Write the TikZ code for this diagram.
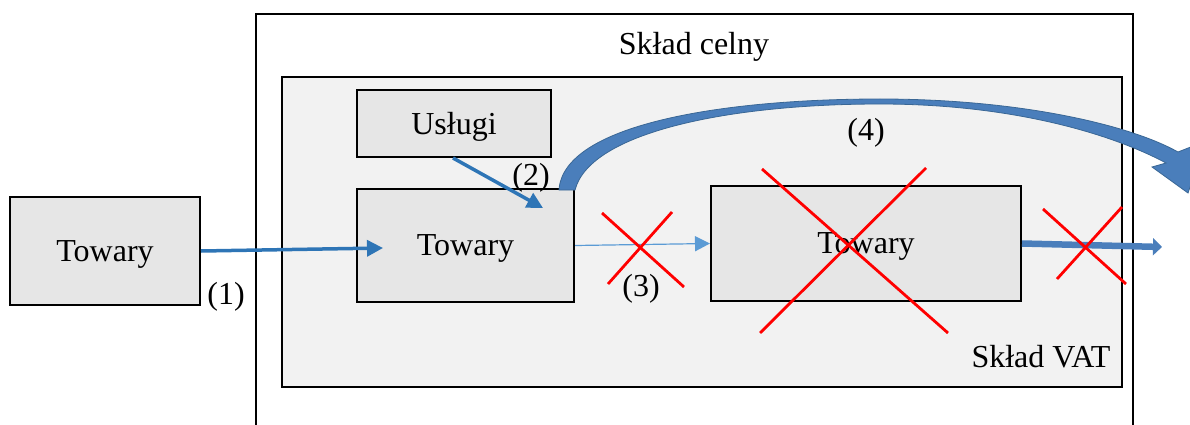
\documentclass[tikz,border=0pt]{standalone}
\usepackage{fontspec}
\setmainfont{Liberation Serif}
\usetikzlibrary{arrows.meta}
\usepackage{xcolor}
\definecolor{boxgray}{HTML}{E6E6E6}
\definecolor{vatgray}{HTML}{F2F2F2}
\definecolor{flowblue}{HTML}{2E75B6}
\definecolor{lightflow}{HTML}{5B9BD5}
\definecolor{bendblue}{HTML}{4A7EBB}
\definecolor{bendedge}{HTML}{3A6795}

\tikzset{
  box/.style={draw=black, line width=2pt, fill=boxgray, minimum width=#1, inner sep=0pt, text depth=0pt},
  txt/.style={font=\fontsize{32}{38}\selectfont, inner sep=0pt},
  cross/.style={red, line width=2.8pt},
  flow/.style={flowblue, line width=3.5pt, -{Triangle[length=16pt,width=16pt]}}
}

\begin{document}
\begin{tikzpicture}[x=1pt,y=-1pt]
\useasboundingbox (0,0) rectangle (1190,425);
\clip (0,0) rectangle (1190,425);
% warehouses
\draw[line width=2pt] (256,14) rectangle (1133,440);
\node[txt] (celny) at (694,47) {Skład celny};
\draw[line width=2pt, fill=vatgray] (282,77) rectangle (1122,387);
\node[txt] (vat) at (1041,357) {Skład VAT};
% boxes
\node[box=190pt, minimum height=108pt, txt] (towaryL) at (105,251) {Towary};
\node[box=194pt, minimum height=67pt, txt] (uslugi) at (454,123.5) {Usługi};
\node[box=217pt, minimum height=113pt, txt] (towaryA) at (465.5,245.5) {Towary};
\node[box=310pt, minimum height=115pt, txt] (towaryB) at (866,243.5) {Towary};
\coordinate (inA) at (383,248);
\coordinate (inB) at (543,208);
\coordinate (outB) at (1162,247);
% flows
\draw[flow] (towaryL.east) -- (inA);
\draw[flow] ([xshift=-1pt]uslugi.south) -- (inB);
\draw[lightflow, line width=1.2pt, -{Triangle[length=15pt,width=15pt]}] (towaryA.east) -- (towaryB.west);
\draw[bendblue, line width=6.5pt, -{Triangle[length=9pt,width=17pt]}] (towaryB.east) -- (outB);
% bent arrow (4)
\filldraw[fill=bendblue, draw=bendedge, line width=0.8pt]
  (559,190) .. controls (563,125) and (720,99) .. (880,99)
  .. controls (1020,99) and (1130,125) .. (1178,152)
  -- (1206,141) -- (1188,193) -- (1152,167) -- (1166,163)
  .. controls (1110,133) and (1010,104) .. (880,104)
  .. controls (730,104) and (590,132) .. (575,190) -- cycle;
% crosses
\draw[cross] (602,213) -- (684,287);
\draw[cross] (672,212) -- (608,284);
\draw[cross] (762,169) -- (948,333);
\draw[cross] (926,168) -- (760,333);
\draw[cross] (1043,209) -- (1126,284);
\draw[cross] (1122,207) -- (1057,279);
% labels
\node[txt] (n1) at (226,297) {(1)};
\node[txt] (n2) at (531,178) {(2)};
\node[txt] (n3) at (641,289) {(3)};
\node[txt] (n4) at (866,133) {(4)};
\end{tikzpicture}
\end{document}
